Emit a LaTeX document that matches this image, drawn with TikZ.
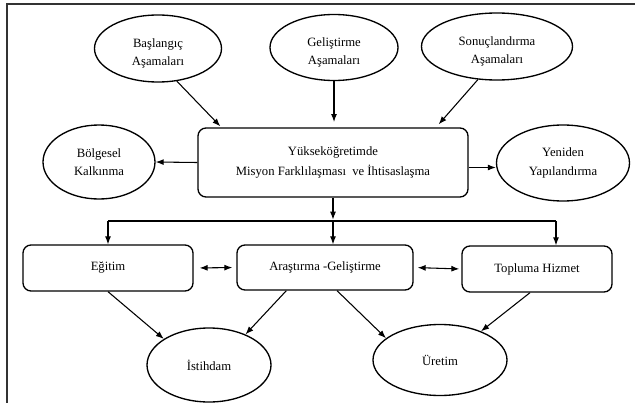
\documentclass[tikz,border=0pt]{standalone}
\usepackage{fontspec}
\setmainfont{Liberation Serif}
\usetikzlibrary{shapes.geometric,arrows.meta,calc}
\newcommand\lowr{\rule{0pt}{14pt}}
\begin{document}
\begin{tikzpicture}[x=0.75pt,y=-0.75pt,
  txt/.style={align=center,font=\fontsize{9.5}{14}\selectfont},
  ell/.style={draw,ellipse,line width=1pt,inner sep=0pt,txt},
  box/.style={draw,rectangle,rounded corners=6pt,line width=1pt,inner sep=0pt,txt},
  arr/.style={-{Latex[length=6pt,width=4.5pt]},line width=0.8pt},
  darr/.style={{Latex[length=6pt,width=4.5pt]}-{Latex[length=6pt,width=4.5pt]},line width=0.8pt}]
\useasboundingbox (0,0) rectangle (635,403);
\draw[line width=1.5pt,black!80] (7,405) -- (7,4) -- (637,4);

\node[ell,minimum width=95.25pt,minimum height=50.25pt] (bas) at (158,48.5) {\lowr Başlangıç\\Aşamaları};
\node[ell,minimum width=96pt,minimum height=49.5pt] (gel) at (334,47.5) {\lowr Geliştirme\\Aşamaları};
\node[ell,minimum width=113.25pt,minimum height=50.25pt] (son) at (497,46.5) {\lowr Sonuçlandırma\\Aşamaları};
\node[box,minimum width=202.5pt,minimum height=51.75pt,font=\fontsize{9.5}{15}\selectfont] (main) at (333,162.5) {Yükseköğretimde\\Misyon Farklılaşması~ ve İhtisaslaşma};
\node[ell,minimum width=84pt,minimum height=55.5pt] (bol) at (99,162) {Bölgesel\\Kalkınma};
\node[ell,minimum width=99.75pt,minimum height=57pt] (yen) at (563,163) {Yeniden\\Yapılandırma};
\node[box,minimum width=127.5pt,minimum height=34.5pt] (edu) at (108,268) {Eğitim};
\node[box,minimum width=132pt,minimum height=33.75pt] (ar) at (325,267.5) {Araştırma -Geliştirme};
\node[box,minimum width=112.5pt,minimum height=34.5pt] (top) at (537,269) {Topluma Hizmet};
\node[ell,minimum width=93pt,minimum height=55.5pt] (ist) at (209,365) {İstihdam};
\node[ell,minimum width=100.5pt,minimum height=53.25pt] (ure) at (440,360) {Üretim};

\coordinate (barL) at (108,221);
\coordinate (barR) at (556,221);
\draw[line width=1.5pt] (barL) -- (barR);
\draw[arr,shorten >=1pt] (main.south) -- (main.south |- barL);
\draw[arr] (barL) -- (edu.north);
\draw[arr] (main.south |- barL) -- (main.south |- ar.north);
\draw[arr] (barR) -- (barR |- top.north);

\draw[darr,shorten <=4.5pt,shorten >=3pt] (edu.east) -- (ar.west);
\draw[darr,shorten <=3pt,shorten >=1.5pt] (ar.east) -- (top.west);

\draw[arr] (bas.-60) -- ($(main.north west)+(23,-1)$);
\draw[arr,shorten >=4pt] (gel.south) -- (gel.south |- main.north);
\draw[arr] (son.-120) -- ($(main.north east)+(-30,-3)$);
\draw[arr] (main.west) -- (bol.east);
\coordinate (m1) at ($(main.east)+(0,5)$);
\draw[arr] (m1) -- (m1 -| yen.west);
\draw[arr] (edu.south) -- (ist.150);
\draw[arr] ($(ar.south west)+(50,0)$) -- (ist.40);
\draw[arr] ($(ar.south)+(12,0)$) -- (ure.158);
\draw[arr] ($(top.south)+(-7,0)$) -- (ure.35);
\end{tikzpicture}
\end{document}
